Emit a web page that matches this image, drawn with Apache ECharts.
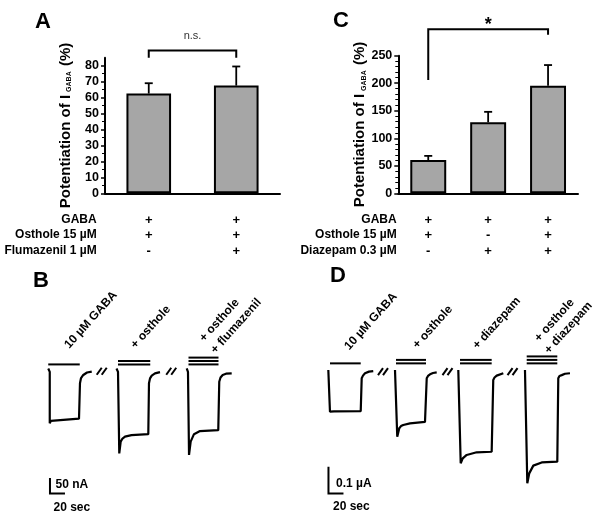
<!DOCTYPE html>
<html>
<head>
<meta charset="utf-8">
<script src="https://cdn.jsdelivr.net/npm/echarts@6/dist/echarts.min.js"></script>
<style>
  html, body { margin: 0; padding: 0; background: #fff; }
  #chart { width: 600px; height: 522px; }
</style>
</head>
<body>
<div id="chart"></div>
<script>
// ---- panel A: potentiation, osthole +/- flumazenil ----
const catsA = ['GABA + osthole', 'GABA + osthole + flumazenil']
const gabaA = ['+', '+']
const ostholeA = ['+', '+']
const flumazenilA = ['-', '+']
const rowNamesA = ['GABA', 'Osthole 15 µM', 'Flumazenil 1 µM']
const meanA = [62.5, 67.5]
const semA = [6.5, 12]
const ticksA = [0, 10, 20, 30, 40, 50, 60, 70, 80]
const bracketA = [0, 1, 89.5, 85, 85]   // from, to, top, left foot, right foot

// ---- panel C: potentiation, osthole / diazepam ----
const catsC = ['GABA + osthole', 'GABA + diazepam', 'GABA + osthole + diazepam']
const gabaC = ['+', '+', '+']
const ostholeC = ['+', '-', '+']
const diazepamC = ['-', '+', '+']
const rowNamesC = ['GABA', 'Osthole 15 µM', 'Diazepam 0.3 µM']
const meanC = [60.5, 129, 195.5]
const semC = [7.5, 19, 37.5]
const ticksC = [0, 50, 100, 150, 200, 250]
const bracketC = [0, 2, 298, 206, 288]

// ---- panel B: current traces [time s, current nA] ----
const traceB1 = [[11, 5], [13, -6], [13, -172], [14.5, -164], [17, -159], [52, -157], [53.3, -43], [54.7, -26], [57.7, -16], [62.7, -8], [69, -5]]
const traceB2 = [[102, 5], [104, -6], [105.7, -269], [107.6, -231], [110, -221], [113.3, -215], [122, -210], [144.4, -207], [145.3, -43], [146.7, -27], [149, -18], [153.3, -11], [160, -7]]
const traceB3 = [[195.6, 5], [197.3, -6], [198.7, -274], [200.9, -231], [205.3, -207], [213.3, -197], [237.7, -194], [239, -38], [240.7, -24], [243.6, -16], [248, -12], [255.6, -11]]
const appB = [[11, 53, 18], [104, 147, 18], [104, 147, 29], [198, 238, 18], [198, 238, 29], [198, 238, 40]]
const breaksB = [[82.3, -4], [175, -4]]
const scaleBarB = [[13.3, -398, 20, 50]]   // t, I, 20 sec, 50 nA

// ---- panel D: current traces [time s, current µA] ----
const traceD1 = [[11.1, 0], [12.7, -0.007], [13.3, -0.156], [15.3, -0.159], [18.7, -0.155], [54.3, -0.154], [55.6, -0.031], [57.3, -0.021], [60, -0.012], [65.3, -0.006], [71, -0.004]]
const traceD2 = [[100, 0], [101.7, -0.007], [103, -0.25], [105.7, -0.218], [108, -0.21], [111, -0.206], [120, -0.2], [140, -0.194], [142.3, -0.031], [144, -0.022], [146.7, -0.016], [150.7, -0.011], [155.6, -0.009]]
const traceD3 = [[184.4, 0], [186.1, -0.007], [187.6, -0.349], [190.3, -0.331], [195.6, -0.318], [208.9, -0.308], [228.9, -0.306], [231, -0.037], [232.7, -0.028], [235.6, -0.021], [244.4, -0.012]]
const traceD4 = [[273.3, 0], [275, -0.007], [276.4, -0.424], [279, -0.387], [284.4, -0.358], [295.6, -0.346], [316.4, -0.343], [317.7, -0.031], [319.3, -0.022], [322.3, -0.019], [326.7, -0.014], [333.3, -0.012]]
const appD = [[13.3, 54.3, 0.025], [101.3, 141.3, 0.025], [101.3, 141.3, 0.038], [186.7, 228.9, 0.025], [186.7, 228.9, 0.038], [275.6, 316.4, 0.025], [275.6, 316.4, 0.038], [275.6, 316.4, 0.051]]
const breaksD = [[84, -0.006], [170, -0.006], [256.7, -0.006]]
const scaleBarD = [[11.3, -0.462, 20, 0.1]]   // t, I, 20 sec, 0.1 µA

const FONT = '"Liberation Sans", Arial, sans-serif'

const chart = echarts.init(document.getElementById('chart'), null, { renderer: 'canvas' })

// error bar: up only, with cap
function errorItem(params, api) {
  const lo = api.coord([api.value(0), api.value(1)])
  const hi = api.coord([api.value(0), api.value(2)])
  return {
    type: 'group',
    children: [
      { type: 'line', shape: { x1: lo[0], y1: lo[1], x2: hi[0], y2: hi[1] }, style: { stroke: '#000', lineWidth: 1.8 } },
      { type: 'line', shape: { x1: hi[0] - 4, y1: hi[1], x2: hi[0] + 4, y2: hi[1] }, style: { stroke: '#000', lineWidth: 1.8 } }
    ]
  }
}

// significance bracket with its label; dy moves the label relative to the bracket top
function bracketItem(text, size, weight, dy, color) {
  return (params, api) => {
    const a = api.coord([api.value(0), api.value(3)])
    const b = api.coord([api.value(0), api.value(2)])
    const c = api.coord([api.value(1), api.value(2)])
    const d = api.coord([api.value(1), api.value(4)])
    return {
      type: 'group',
      children: [
        { type: 'polyline', shape: { points: [a, b, c, d] }, style: { stroke: '#000', fill: null, lineWidth: 2 } },
        { type: 'text', x: (b[0] + c[0]) / 2, y: b[1] + dy,
          style: { text, align: 'center', verticalAlign: 'bottom', font: `${weight} ${size}px ${FONT}`, fill: color } }
      ]
    }
  }
}

function segItem(params, api) {
  const a = api.coord([api.value(0), api.value(2)])
  const b = api.coord([api.value(1), api.value(2)])
  return { type: 'line', shape: { x1: a[0], y1: a[1], x2: b[0], y2: b[1] }, style: { stroke: '#000', lineWidth: 2 } }
}

function breakItem(params, api) {
  const c = api.coord([api.value(0), api.value(1)])
  const slash = dx => ({
    type: 'line',
    shape: { x1: c[0] + dx - 2.5, y1: c[1] + 3.5, x2: c[0] + dx + 2.5, y2: c[1] - 3.5 },
    style: { stroke: '#000', lineWidth: 2 }
  })
  return { type: 'group', children: [slash(-2.5), slash(2.5)] }
}

function scaleItem(params, api) {
  const t = api.value(0), i = api.value(1)
  const top = api.coord([t, i + api.value(3)])
  const corner = api.coord([t, i])
  const right = api.coord([t + api.value(2), i])
  return { type: 'polyline', shape: { points: [top, corner, right] }, style: { stroke: '#000', fill: null, lineWidth: 2 } }
}

function traceSeries(data, idx) {
  return {
    type: 'line', data, xAxisIndex: idx, yAxisIndex: idx,
    showSymbol: false, smooth: false, silent: true,
    lineStyle: { color: '#000', width: 2.2 }
  }
}

function catAxis(gridIndex, cats, rows) {
  return {
    type: 'category', gridIndex, data: cats,
    axisLine: { lineStyle: { color: '#000', width: 2 } },
    axisTick: { show: false },
    axisLabel: {
      interval: 0, margin: 19, lineHeight: 15.6,
      color: '#000', fontSize: 13, fontWeight: 'bold', fontFamily: FONT,
      formatter: (v, i) => rows.map(r => r[i]).join('\n')
    }
  }
}

const yName = '{a|Potentiation of I}{s|GABA}{a| (%)}'
const yNameStyle = {
  rich: {
    a: { fontSize: 15, fontWeight: 'bold', fontFamily: FONT, color: '#000' },
    s: { fontSize: 7, fontWeight: 'bold', fontFamily: FONT, color: '#000', verticalAlign: 'bottom', padding: [0, 1, 0, 3] }
  }
}

function valAxis(gridIndex, max, interval, ticks, nameGap, minorSplit) {
  return {
    type: 'value', gridIndex, min: 0, max, interval,
    name: yName, nameLocation: 'middle', nameRotate: 90, nameGap, nameTextStyle: yNameStyle,
    axisLine: { show: true, lineStyle: { color: '#000', width: 2 } },
    axisTick: { show: true, length: 4, customValues: ticks, lineStyle: { color: '#000', width: 1.5 } },
    minorTick: { show: true, splitNumber: minorSplit, length: 3, lineStyle: { color: '#000', width: 1 } },
    axisLabel: { customValues: ticks, margin: 6, color: '#000', fontSize: 12.5, fontWeight: 'bold', fontFamily: FONT },
    splitLine: { show: false }
  }
}

function hidden(gridIndex, min, max) {
  return { type: 'value', gridIndex, min, max, show: false }
}

function rowLabels(names, right) {
  return names.map((t, k) => ({
    type: 'text', x: right, y: 219.5 + k * 15.6,
    style: { text: t, align: 'right', verticalAlign: 'middle', font: `bold 12px ${FONT}`, fill: '#000' }
  }))
}

function rotLabel(text, x, y) {
  return {
    type: 'text', x, y, rotation: 48 * Math.PI / 180,
    style: { text, align: 'left', verticalAlign: 'middle', font: `bold 12px ${FONT}`, fill: '#000' }
  }
}

function plainText(text, x, y, font) {
  return { type: 'text', x, y, style: { text, align: 'left', verticalAlign: 'middle', font, fill: '#000' } }
}

const option = {
  animation: false,
  textStyle: { fontFamily: FONT },
  grid: [
    { left: 105, top: 57.7, width: 175, height: 135.6 },
    { left: 398.3, top: 55.7, width: 179.7, height: 137.6 },
    { left: 40, top: 339, width: 240, height: 170.5 },
    { left: 320, top: 338, width: 279, height: 178.9 }
  ],
  xAxis: [
    catAxis(0, catsA, [gabaA, ostholeA, flumazenilA]),
    catAxis(1, catsC, [gabaC, ostholeC, diazepamC]),
    hidden(2, 0, 320),
    hidden(3, 0, 372)
  ],
  yAxis: [
    valAxis(0, 85, 10, ticksA, 32, 2),
    valAxis(1, 250, 50, ticksC, 29, 5),
    hidden(2, -450, 100),
    hidden(3, -0.55, 0.12)
  ],
  series: [
    { type: 'bar', xAxisIndex: 0, yAxisIndex: 0, data: meanA, barWidth: '51%', silent: true,
      itemStyle: { color: '#a6a6a6', borderColor: '#000', borderWidth: 2 } },
    { type: 'custom', xAxisIndex: 0, yAxisIndex: 0, renderItem: errorItem, clip: false, z: 3,
      data: meanA.map((m, i) => [i, m, m + semA[i]]), encode: { x: 0, y: [1, 2] } },
    { type: 'custom', xAxisIndex: 0, yAxisIndex: 0, renderItem: bracketItem('n.s.', 11, 'normal', -9, '#333'), clip: false,
      data: [bracketA], encode: { x: [0, 1], y: [2, 3, 4] } },

    { type: 'bar', xAxisIndex: 1, yAxisIndex: 1, data: meanC, barWidth: '60%', silent: true,
      itemStyle: { color: '#a6a6a6', borderColor: '#000', borderWidth: 2 } },
    { type: 'custom', xAxisIndex: 1, yAxisIndex: 1, renderItem: errorItem, clip: false, z: 3,
      data: meanC.map((m, i) => [i, m, m + semC[i]]), encode: { x: 0, y: [1, 2] } },
    { type: 'custom', xAxisIndex: 1, yAxisIndex: 1, renderItem: bracketItem('*', 18, 'bold', 5, '#000'), clip: false,
      data: [bracketC], encode: { x: [0, 1], y: [2, 3, 4] } },

    traceSeries(traceB1, 2), traceSeries(traceB2, 2), traceSeries(traceB3, 2),
    { type: 'custom', xAxisIndex: 2, yAxisIndex: 2, renderItem: segItem, clip: false, data: appB, encode: { x: [0, 1], y: 2 } },
    { type: 'custom', xAxisIndex: 2, yAxisIndex: 2, renderItem: breakItem, clip: false, data: breaksB, encode: { x: 0, y: 1 } },
    { type: 'custom', xAxisIndex: 2, yAxisIndex: 2, renderItem: scaleItem, clip: false, data: scaleBarB, encode: { x: 0, y: 1 } },

    traceSeries(traceD1, 3), traceSeries(traceD2, 3), traceSeries(traceD3, 3), traceSeries(traceD4, 3),
    { type: 'custom', xAxisIndex: 3, yAxisIndex: 3, renderItem: segItem, clip: false, data: appD, encode: { x: [0, 1], y: 2 } },
    { type: 'custom', xAxisIndex: 3, yAxisIndex: 3, renderItem: breakItem, clip: false, data: breaksD, encode: { x: 0, y: 1 } },
    { type: 'custom', xAxisIndex: 3, yAxisIndex: 3, renderItem: scaleItem, clip: false, data: scaleBarD, encode: { x: 0, y: 1 } }
  ],
  graphic: [
    plainText('A', 35, 22, `bold 22px ${FONT}`),
    plainText('C', 333, 21, `bold 22px ${FONT}`),
    plainText('B', 33, 281, `bold 22px ${FONT}`),
    plainText('D', 330, 276, `bold 22px ${FONT}`),
    ...rowLabels(rowNamesA, 96.7),
    ...rowLabels(rowNamesC, 396.7),
    rotLabel('10 µM GABA', 66.7, 346.7),
    rotLabel('+ osthole', 133, 346.7),
    rotLabel('+ osthole', 201.7, 340),
    rotLabel('+ flumazenil', 213, 351.7),
    rotLabel('10 µM GABA', 346.7, 348.3),
    rotLabel('+ osthole', 415, 346.7),
    rotLabel('+ diazepam', 475, 347.3),
    rotLabel('+ osthole', 536.7, 340),
    rotLabel('+ diazepam', 546.7, 352),
    plainText('50 nA', 55.5, 485, `bold 12px ${FONT}`),
    plainText('20 sec', 53.5, 507.5, `bold 12px ${FONT}`),
    plainText('0.1 µA', 336, 483.3, `bold 12px ${FONT}`),
    plainText('20 sec', 333, 507, `bold 12px ${FONT}`)
  ]
}

chart.setOption(option)
</script>
</body>
</html>
